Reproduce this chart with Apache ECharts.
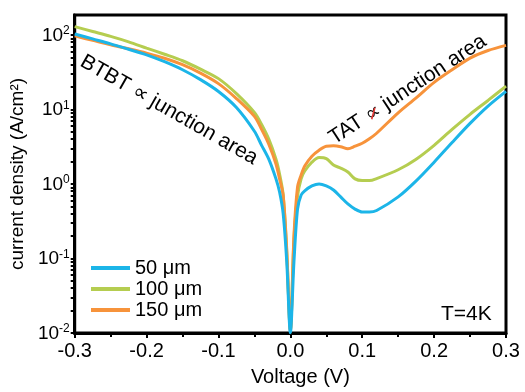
<!DOCTYPE html>
<html>
<head>
<meta charset="utf-8">
<script src="https://cdn.jsdelivr.net/npm/echarts@6/dist/echarts.min.js"></script>
<style>
  html, body { margin: 0; padding: 0; background: #fff; }
  #chart { width: 525px; height: 392px; }
</style>
</head>
<body>
<div id="chart"></div>
<script>
// voltage sweep (V)
const voltage = [-0.3, -0.275, -0.25, -0.225, -0.2, -0.175, -0.15, -0.125, -0.1, -0.075, -0.05,
  -0.04, -0.03, -0.02, -0.015, -0.01, -0.005, 0,
  0.005, 0.01, 0.015, 0.02, 0.03, 0.04, 0.05, 0.06, 0.07, 0.08, 0.09, 0.1, 0.11, 0.12, 0.15, 0.175, 0.2, 0.225, 0.25, 0.275, 0.3];
// current density (A/cm2) per junction size
const j50 = [103, 88.4, 75.9, 64.1, 54.1, 43.7, 34.1, 25.1, 17.4, 10.6, 5.09,
  3.3, 2.15, 1.17, 0.78, 0.4, 0.09, 0.0101,
  0.09, 0.46, 0.71, 0.81, 0.94, 1.0, 0.94, 0.83, 0.67, 0.54, 0.46, 0.42, 0.42, 0.44, 0.67, 1.1, 1.96, 3.6, 6.5, 11.1, 17.5];
const j100 = [129, 111, 95.5, 80.7, 66.5, 55, 45, 34.7, 25.9, 16.3, 9.1,
  6.3, 4, 2.15, 1.36, 0.72, 0.12, 0.011,
  0.18, 0.69, 1.17, 1.49, 1.96, 2.26, 2.19, 1.79, 1.63, 1.45, 1.17, 1.11, 1.11, 1.18, 1.55, 2.15, 3.3, 5.4, 8.6, 13.2, 20.5];
const j150 = [97, 84.5, 73.6, 65.1, 57.0, 48.6, 39.8, 30.7, 22.2, 14.0, 8.07,
  5.4, 3.41, 1.85, 1.17, 0.7, 0.13, 0.0106,
  0.2, 0.91, 1.32, 1.74, 2.36, 2.84, 3.21, 3.25, 3.16, 2.97, 3.21, 3.52, 4.04, 4.79, 9.0, 14.3, 23.1, 34.1, 48.9, 61.8, 72.4];
const seriesNames = ['50 μm', '100 μm', '150 μm'];
const colors = ['#1cb5e8', '#b5cd50', '#f7933b'];
const yLabelTicks = [0.01, 0.1, 1, 10, 100];

// minor ticks at 1..9 x 10^k
const yTicks = [];
[0.01, 0.1, 1, 10, 100].forEach(d => {
  for (let k = 1; k <= 9; k++) {
    const v = +(d * k).toPrecision(3);
    if (v <= 185) yTicks.push(v);
  }
});

const font = 'Liberation Sans, Arial, sans-serif';
const myChart = echarts.init(document.getElementById('chart'));

const mk = (arr) => voltage.map((v, i) => [v, arr[i]]);
const allData = [j50, j100, j150];
const zs = [4, 2, 3];

// where the "∝" sits inside the TAT label, for the red strike-through
const ctx = document.createElement('canvas').getContext('2d');
ctx.font = '21px ' + font;
const tatPre = ctx.measureText('TAT ').width;
const propW = ctx.measureText('∝').width;
const slashX = tatPre + propW / 2;

myChart.setOption({
  animation: false,
  textStyle: {fontFamily: font, color: '#000'},
  grid: {left: 67, right: 19, top: 15, bottom: 57, show: true, borderColor: '#000', borderWidth: 3},
  legend: {
    orient: 'vertical',
    left: 91,
    top: 258,
    padding: 0,
    itemWidth: 39,
    itemHeight: 4,
    itemGap: 1,
    icon: 'rect',
    data: seriesNames,
    textStyle: {fontSize: 20, lineHeight: 20, color: '#000', fontFamily: font}
  },
  xAxis: {
    type: 'value',
    min: -0.3,
    max: 0.3,
    interval: 0.1,
    name: 'Voltage (V)',
    nameLocation: 'middle',
    nameGap: 34,
    nameTextStyle: {fontSize: 20, color: '#000', padding: [0, 0, 0, 20]},
    axisLine: {onZero: false, lineStyle: {color: '#000', width: 3}},
    axisTick: {length: 5, lineStyle: {width: 2, color: '#000'}},
    minorTick: {show: true, splitNumber: 2, length: 4, lineStyle: {width: 2, color: '#000'}},
    splitLine: {show: false},
    axisLabel: {fontSize: 20, color: '#000', margin: 8, formatter: v => v.toFixed(1)}
  },
  yAxis: {
    type: 'log',
    logBase: 10,
    min: 0.01,
    max: 185,
    name: 'current density (A/cm²)',
    nameLocation: 'middle',
    nameGap: 36,
    nameTextStyle: {fontSize: 19, color: '#000'},
    axisLine: {show: true, onZero: false, lineStyle: {color: '#000', width: 3}},
    axisTick: {length: 4, lineStyle: {width: 2, color: '#000'}, customValues: yTicks},
    splitLine: {show: false},
    axisLabel: {
      margin: 5,
      customValues: yLabelTicks,
      formatter: v => '{n|10}{s|' + Math.round(Math.log10(v)) + '}',
      rich: {
        n: {fontSize: 19, lineHeight: 20, color: '#000', fontFamily: font, verticalAlign: 'bottom'},
        s: {fontSize: 12, lineHeight: 20, color: '#000', fontFamily: font, verticalAlign: 'top', padding: [0, 0, 6, 0]}
      }
    }
  },
  series: seriesNames.map((name, i) => ({
    name: name,
    type: 'line',
    data: mk(allData[i]),
    showSymbol: false,
    smooth: 0.3,
    z: zs[i],
    itemStyle: {color: colors[i]},
    lineStyle: {color: colors[i], width: 3}
  })),
  graphic: [
    {
      type: 'text', x: 169, y: 110, rotation: -0.52,
      style: {text: 'BTBT ∝ junction area', fontSize: 21, fontFamily: font, fill: '#000', textAlign: 'center', textVerticalAlign: 'middle'}
    },
    {
      type: 'group', x: 331, y: 140, rotation: 0.58,
      children: [
        {
          type: 'text', x: 0, y: 0,
          style: {text: 'TAT ∝ junction area', fontSize: 21, fontFamily: font, fill: '#000', textAlign: 'left', textVerticalAlign: 'middle'}
        },
        {
          type: 'line', z: 100,
          shape: {x1: slashX - 4.5, y1: 5, x2: slashX + 4.5, y2: -3},
          style: {stroke: '#e53935', lineWidth: 1.6}
        }
      ]
    },
    {
      type: 'text', x: 441, y: 314,
      style: {text: 'T=4K', fontSize: 21, fontFamily: font, fill: '#000', textAlign: 'left', textVerticalAlign: 'middle'}
    }
  ]
});
</script>
</body>
</html>
